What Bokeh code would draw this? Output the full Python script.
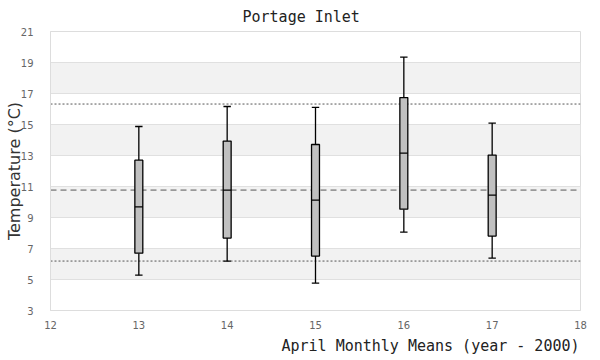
from bokeh.plotting import figure
from bokeh.models import Range1d, FixedTicker, Span, Title
from bokeh.embed import file_html
from bokeh.resources import INLINE

# Data (April monthly means, year - 2000)
years = [13, 14, 15, 16, 17]
whisker_low = [5.28, 6.19, 4.77, 8.06, 6.38]
q1 = [6.70, 7.67, 6.51, 9.54, 7.80]
median = [9.69, 10.77, 10.12, 13.15, 10.45]
q3 = [12.70, 13.93, 13.71, 16.74, 13.03]
whisker_high = [14.87, 16.16, 16.10, 19.35, 15.09]

mean_line = 10.77
upper_line = 16.32
lower_line = 6.19

x_ticks = [12, 13, 14, 15, 16, 17, 18]
y_ticks = [3, 5, 7, 9, 11, 13, 15, 17, 19, 21]

MONO = "DejaVu Sans Mono"
SANS = "DejaVu Sans"

p = figure(width=600, height=360, output_backend="svg", toolbar_location=None,
           x_range=Range1d(12, 18), y_range=Range1d(3, 21),
           min_border_left=50, min_border_right=20, min_border_top=31,
           min_border_bottom=50)

p.title.text = "Portage Inlet"
p.title.align = "left"
p.title.offset = 192
p.title.text_font = MONO
p.title.text_font_size = "15px"
p.title.text_font_style = "normal"
p.title.text_color = "#222222"
p.title.standoff = 11

p.outline_line_color = "#dddddd"
p.outline_line_width = 1
p.background_fill_color = "white"
p.border_fill_color = "white"

p.xaxis.ticker = FixedTicker(ticks=x_ticks)
p.yaxis.ticker = FixedTicker(ticks=y_ticks)
for ax in (p.xaxis[0], p.yaxis[0]):
    ax.axis_line_color = "#dddddd"
    ax.major_tick_line_color = None
    ax.minor_tick_line_color = None
    ax.major_label_text_font = SANS
    ax.major_label_text_font_size = "10px"
    ax.major_label_text_color = "#666666"
    ax.axis_label_text_font = SANS
    ax.axis_label_text_font_size = "16px"
    ax.axis_label_text_font_style = "normal"
    ax.axis_label_text_color = "#333333"
p.yaxis.major_label_standoff = 11
p.xaxis.major_label_standoff = 4
p.yaxis.axis_label = "Temperature (°C)"
p.yaxis.axis_label_standoff = -6

p.xgrid.grid_line_color = None
p.ygrid.grid_line_color = "#e0e0e0"
p.ygrid.grid_line_width = 1
p.ygrid.band_fill_color = "#f2f2f2"
p.ygrid.band_fill_alpha = 1.0

xt = Title(text="April Monthly Means (year - 2000)", align="right",
           text_font=MONO, text_font_size="15px", text_font_style="normal",
           text_color="#222222", offset=1, standoff=6)
p.add_layout(xt, "below")

for val, dash in ((upper_line, "2 2"), (lower_line, "2 2"), (mean_line, "6 4")):
    p.add_layout(Span(location=val, dimension="width", line_color="#555555",
                      line_width=1, line_dash=dash, level="underlay"))

cap = 0.042
half = 0.045
# whiskers
p.segment(x0=years, y0=whisker_low, x1=years, y1=q1, line_color="black", line_width=1.3)
p.segment(x0=years, y0=q3, x1=years, y1=whisker_high, line_color="black", line_width=1.3)
p.segment(x0=[x - cap for x in years], y0=whisker_low, x1=[x + cap for x in years],
          y1=whisker_low, line_color="black", line_width=1.3)
p.segment(x0=[x - cap for x in years], y0=whisker_high, x1=[x + cap for x in years],
          y1=whisker_high, line_color="black", line_width=1.3)
# boxes
p.vbar(x=years, width=2 * half, bottom=q1, top=q3, fill_color="#c0c0c0",
       line_color="black", line_width=1.3)
p.segment(x0=[x - half for x in years], y0=median, x1=[x + half for x in years],
          y1=median, line_color="black", line_width=1.3)

open("out.html", "w").write(file_html(p, INLINE))
